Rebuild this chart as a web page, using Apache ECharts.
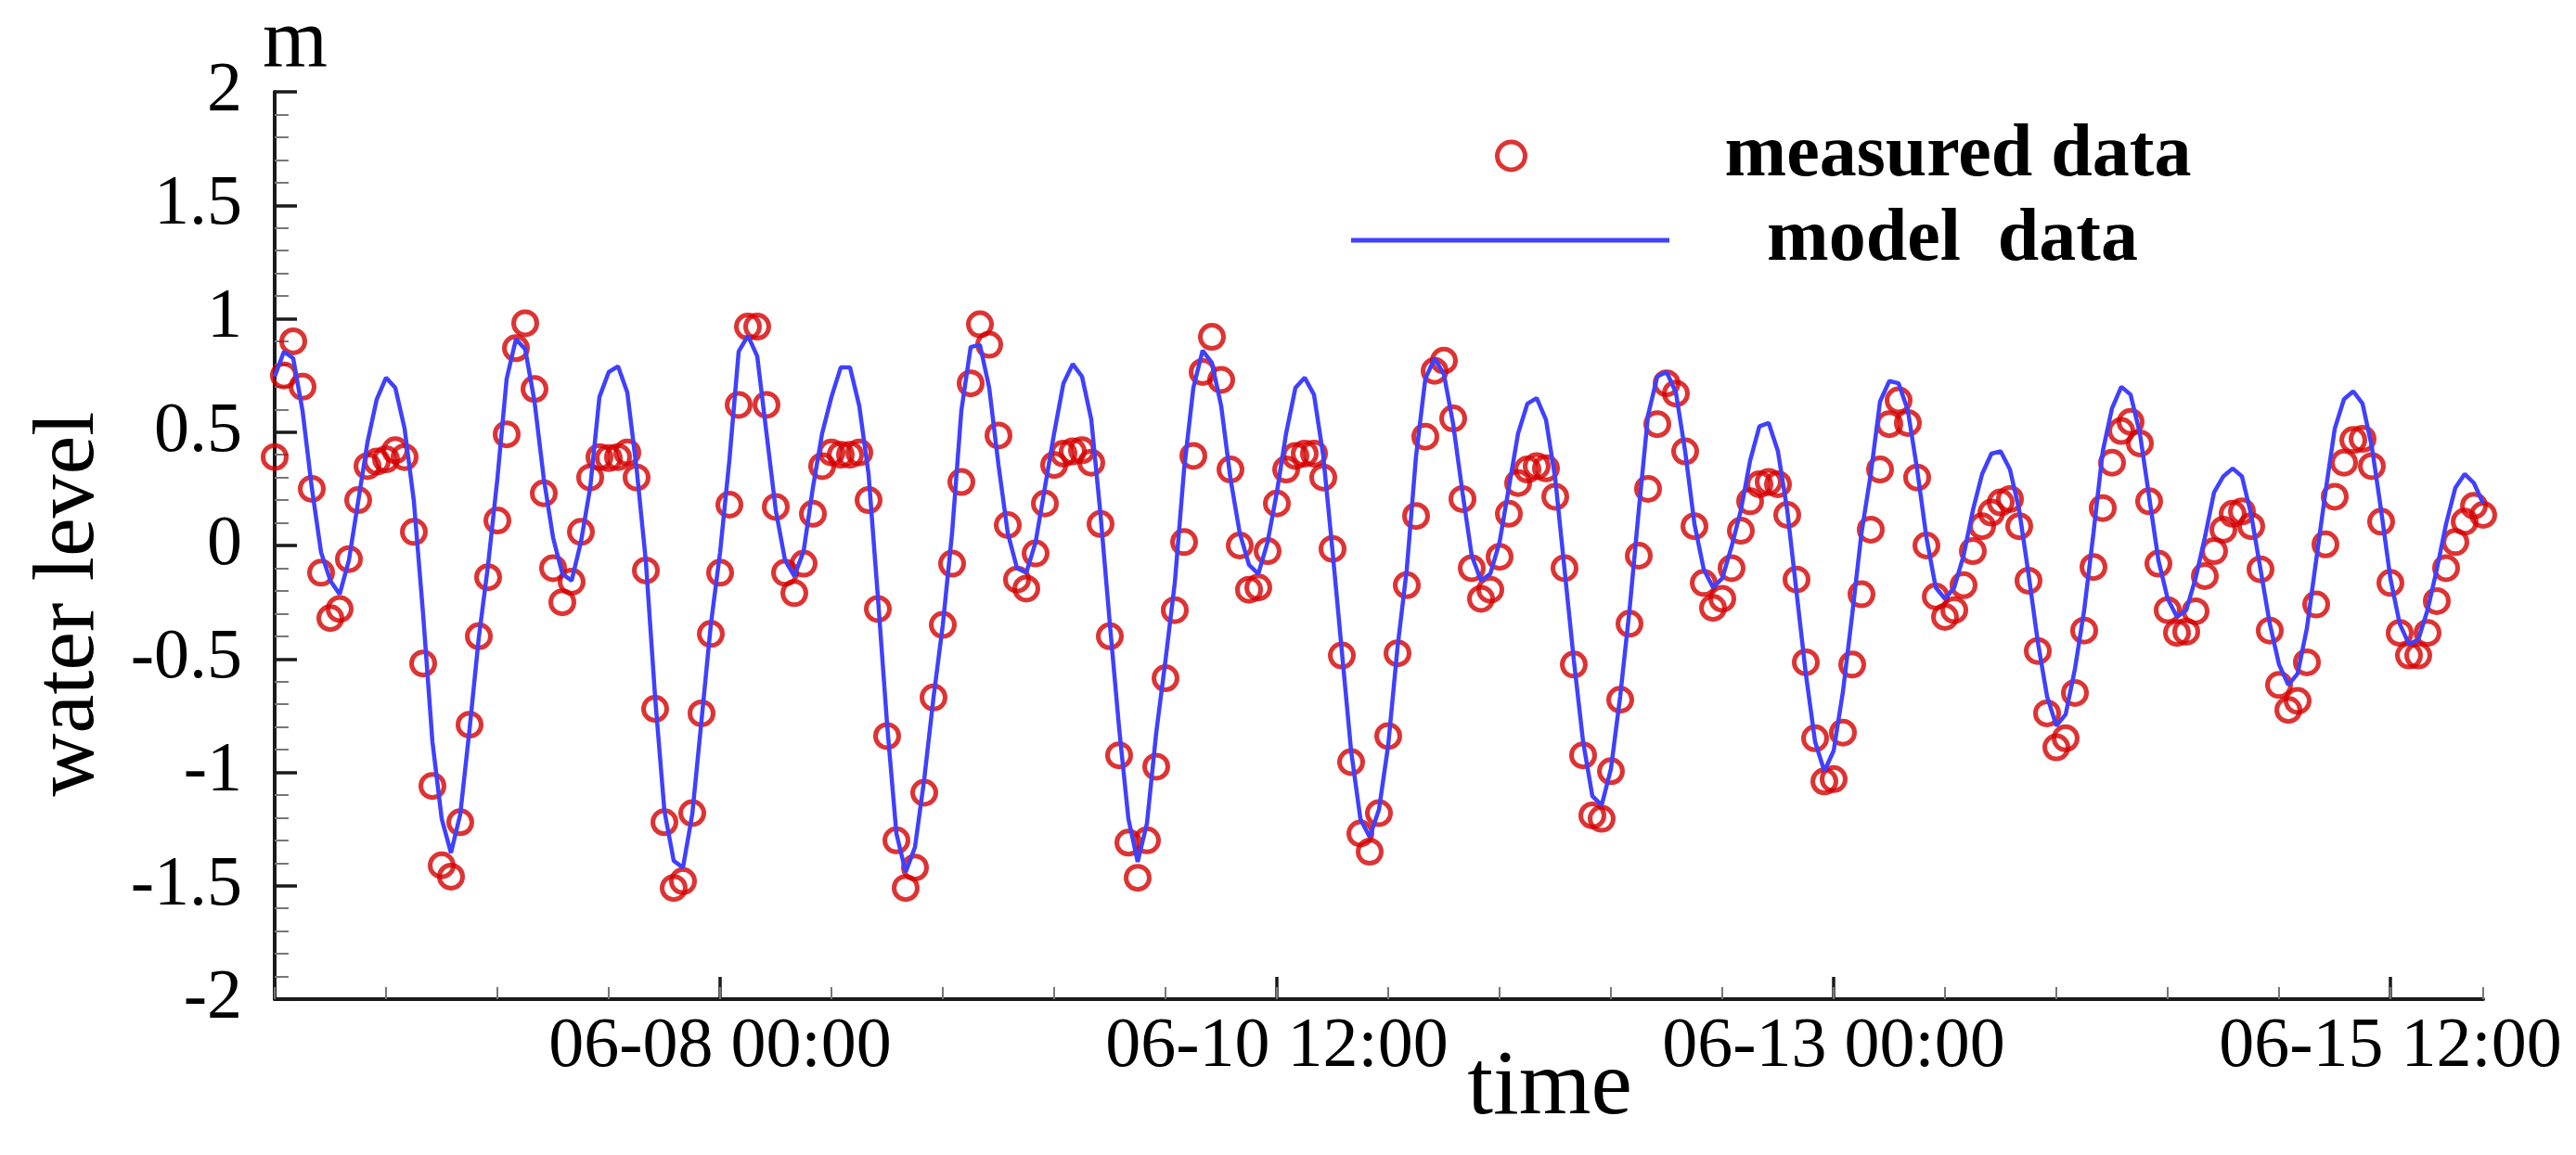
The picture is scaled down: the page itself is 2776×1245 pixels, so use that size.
<!DOCTYPE html>
<html>
<head>
<meta charset="utf-8">
<script src="https://cdn.jsdelivr.net/npm/echarts@6/dist/echarts.min.js"></script>
<style>
html,body{margin:0;padding:0;background:#fff;}
#chart{width:2776px;height:1245px;}
</style>
</head>
<body>
<div id="chart"></div>
<script>
// measured water level (m), hourly samples from 06-06 00:00
const measuredLevel = [
  0.39, 0.75, 0.90, 0.70, 0.25, -0.12, -0.32, -0.28, -0.06, 0.20, 0.35, 0.37,
  0.38, 0.42, 0.39, 0.06, -0.52, -1.06, -1.41, -1.46, -1.22, -0.79, -0.40, -0.14,
  0.11, 0.49, 0.87, 0.98, 0.69, 0.23, -0.10, -0.25, -0.16, 0.06, 0.30, 0.39,
  0.385, 0.39, 0.41, 0.30, -0.11, -0.72, -1.22, -1.51, -1.48, -1.18, -0.74, -0.39,
  -0.12, 0.18, 0.62, 0.965, 0.965, 0.62, 0.17, -0.12, -0.21, -0.08, 0.14, 0.35,
  0.41, 0.40, 0.40, 0.41, 0.20, -0.28, -0.84, -1.30, -1.51, -1.42, -1.09, -0.67,
  -0.35, -0.08, 0.28, 0.715, 0.975, 0.885, 0.485, 0.09, -0.15, -0.19, -0.035, 0.185,
  0.355, 0.405, 0.415, 0.42, 0.365, 0.095, -0.40, -0.925, -1.31, -1.465, -1.30, -0.975,
  -0.585, -0.285, 0.015, 0.395, 0.765, 0.92, 0.73, 0.335, 0.0, -0.195, -0.185, -0.025,
  0.185, 0.335, 0.395, 0.405, 0.405, 0.30, -0.015, -0.485, -0.955, -1.27, -1.35, -1.18,
  -0.84, -0.475, -0.175, 0.13, 0.48, 0.77, 0.815, 0.56, 0.205, -0.10, -0.235, -0.195,
  -0.05, 0.14, 0.275, 0.335, 0.35, 0.34, 0.215, -0.10, -0.525, -0.925, -1.19, -1.205,
  -0.995, -0.68, -0.345, -0.045, 0.25, 0.535, 0.715, 0.67, 0.415, 0.085, -0.165, -0.275,
  -0.235, -0.10, 0.065, 0.195, 0.27, 0.28, 0.27, 0.135, -0.15, -0.515, -0.85, -1.04,
  -1.03, -0.825, -0.525, -0.215, 0.07, 0.335, 0.535, 0.64, 0.54, 0.30, 0.0, -0.225,
  -0.315, -0.285, -0.175, -0.025, 0.085, 0.145, 0.19, 0.205, 0.085, -0.155, -0.465, -0.74,
  -0.89, -0.85, -0.65, -0.375, -0.095, 0.165, 0.365, 0.505, 0.545, 0.45, 0.195, -0.08,
  -0.285, -0.385, -0.38, -0.29, -0.135, -0.025, 0.07, 0.14, 0.15, 0.085, -0.105, -0.375,
  -0.615, -0.725, -0.685, -0.515, -0.26, 0.005, 0.215, 0.365, 0.465, 0.47, 0.35, 0.105,
  -0.165, -0.385, -0.485, -0.485, -0.385, -0.245, -0.10, 0.015, 0.105, 0.175, 0.135
];
// model water level (m), hourly samples from 06-06 00:00
const modelLevel = [
  0.745, 0.855, 0.825, 0.595, 0.255, -0.03, -0.155, -0.215, -0.065, 0.195, 0.455, 0.645,
  0.74, 0.695, 0.515, 0.195, -0.305, -0.865, -1.205, -1.355, -1.185, -0.81, -0.405, -0.085,
  0.295, 0.735, 0.91, 0.865, 0.635, 0.295, 0.035, -0.125, -0.155, 0.015, 0.255, 0.655,
  0.765, 0.79, 0.675, 0.34, -0.07, -0.67, -1.17, -1.39, -1.42, -1.185, -0.77, -0.35,
  -0.03, 0.375, 0.855, 0.925, 0.835, 0.495, 0.155, -0.065, -0.135, -0.025, 0.255, 0.495,
  0.655, 0.785, 0.785, 0.615, 0.315, -0.225, -0.79, -1.27, -1.44, -1.33, -1.03, -0.67,
  -0.35, 0.055, 0.595, 0.875, 0.885, 0.695, 0.355, 0.055, -0.10, -0.12, 0.015, 0.255,
  0.495, 0.715, 0.80, 0.745, 0.555, 0.135, -0.345, -0.805, -1.205, -1.395, -1.225, -0.825,
  -0.505, -0.165, 0.335, 0.695, 0.86, 0.805, 0.615, 0.295, 0.055, -0.085, -0.125, 0.015,
  0.235, 0.495, 0.695, 0.74, 0.665, 0.395, -0.025, -0.465, -0.905, -1.205, -1.285, -1.165,
  -0.88, -0.45, -0.105, 0.395, 0.735, 0.825, 0.755, 0.535, 0.235, -0.045, -0.155, -0.125,
  0.015, 0.255, 0.495, 0.625, 0.65, 0.555, 0.295, -0.105, -0.505, -0.865, -1.105, -1.145,
  -0.985, -0.665, -0.285, 0.155, 0.575, 0.745, 0.765, 0.675, 0.415, 0.095, -0.105, -0.185,
  -0.145, -0.005, 0.155, 0.375, 0.525, 0.54, 0.415, 0.155, -0.205, -0.565, -0.865, -0.995,
  -0.905, -0.645, -0.305, 0.055, 0.315, 0.635, 0.725, 0.715, 0.595, 0.335, 0.035, -0.185,
  -0.235, -0.185, -0.045, 0.155, 0.315, 0.405, 0.415, 0.335, 0.155, -0.125, -0.425, -0.665,
  -0.795, -0.745, -0.545, -0.285, 0.055, 0.415, 0.605, 0.70, 0.665, 0.495, 0.215, -0.065,
  -0.235, -0.315, -0.285, -0.145, 0.035, 0.235, 0.305, 0.34, 0.305, 0.135, -0.105, -0.345,
  -0.525, -0.615, -0.565, -0.365, -0.065, 0.235, 0.515, 0.645, 0.68, 0.625, 0.435, 0.155,
  -0.145, -0.345, -0.435, -0.415, -0.285, -0.105, 0.095, 0.255, 0.315, 0.275, 0.185
];
// tick positions (hours since 06-06 00:00) and their labels
const xTickHours = [48, 108, 168, 228];
const xTickLabels = ['06-08 00:00', '06-10 12:00', '06-13 00:00', '06-15 12:00'];
const xMaxHour = 238;
const seriesNames = ['measured data', 'model  data'];

const measuredPts = measuredLevel.map((v, i) => [i, v]);
const modelPts = modelLevel.map((v, i) => [i, v]);

const FONT = "'Liberation Serif', 'Times New Roman', serif";
const RED = '#d60000';
const BLUE = '#4040ff';
const chart = echarts.init(document.getElementById('chart'), null, {renderer: 'canvas'});
chart.setOption({
  backgroundColor: '#ffffff',
  animation: false,
  grid: {left: 296, top: 99, width: 2380, height: 978, containLabel: false},
  legend: [
    {
      data: [{name: seriesNames[0], icon: 'circle'}], left: 1611, top: 128, padding: 0, orient: 'vertical',
      itemWidth: 30, itemHeight: 30, selectedMode: false,
      itemStyle: {color: 'rgba(0,0,0,0)', borderColor: RED, borderWidth: 5},
      textStyle: {fontFamily: FONT, fontSize: 80, fontWeight: 'bold', color: '#000', padding: [0, 0, 0, 210]}
    },
    {
      data: [{name: seriesNames[1], icon: 'rect'}], left: 1456, top: 219, padding: 0, orient: 'vertical',
      itemWidth: 343, itemHeight: 5, selectedMode: false,
      itemStyle: {color: BLUE, borderWidth: 0},
      textStyle: {fontFamily: FONT, fontSize: 80, fontWeight: 'bold', color: '#000', padding: [0, 0, 0, 100]}
    }
  ],
  xAxis: [
    {
      type: 'value', min: 0, max: xMaxHour, interval: 12,
      axisLine: {show: true, onZero: false, lineStyle: {color: '#1a1a1a', width: 4}},
      axisTick: {show: true, inside: true, length: 24, customValues: xTickHours, lineStyle: {color: '#1a1a1a', width: 3.5}},
      axisLabel: {
        show: true, customValues: xTickHours, margin: 14,
        fontFamily: FONT, fontSize: 76, color: '#000',
        formatter: v => { const k = xTickHours.indexOf(v); return k >= 0 ? xTickLabels[k] : ''; }
      },
      splitLine: {show: false}
    },
    {
      type: 'value', min: 0, max: xMaxHour, interval: 12, position: 'bottom',
      axisLine: {show: false, onZero: false},
      axisTick: {show: true, inside: true, length: 13, lineStyle: {color: '#777', width: 2}},
      axisLabel: {show: false},
      splitLine: {show: false}
    }
  ],
  yAxis: {
    type: 'value', min: -2, max: 2, interval: 0.5,
    axisLine: {show: true, onZero: false, lineStyle: {color: '#1a1a1a', width: 4}},
    axisTick: {show: true, inside: true, length: 24, lineStyle: {color: '#1a1a1a', width: 3.5}},
    minorTick: {show: true, splitNumber: 5, length: 15, lineStyle: {color: '#777', width: 2}},
    axisLabel: {margin: 35, fontFamily: FONT, fontSize: 76, color: '#000'},
    splitLine: {show: false}
  },
  series: [
    {
      name: seriesNames[0], type: 'scatter', data: measuredPts,
      symbol: 'circle', symbolSize: 25,
      itemStyle: {color: 'rgba(0,0,0,0)', borderColor: RED, borderWidth: 5},
      z: 2
    },
    {
      name: seriesNames[1], type: 'line', data: modelPts,
      symbol: 'none', showSymbol: false,
      lineStyle: {color: BLUE, width: 4.5},
      itemStyle: {color: BLUE},
      z: 3
    }
  ],
  graphic: [
    {type: 'text', x: 318, y: 48, style: {text: 'm', font: '90px ' + FONT, fill: '#000', textAlign: 'center', textVerticalAlign: 'middle'}},
    {type: 'text', x: 75, y: 651, rotation: Math.PI / 2, style: {text: 'water level', font: '94px ' + FONT, fill: '#000', textAlign: 'center', textVerticalAlign: 'middle'}},
    {type: 'text', x: 1670, y: 1174, style: {text: 'time', font: '100px ' + FONT, fill: '#000', textAlign: 'center', textVerticalAlign: 'middle'}}
  ]
});
</script>
</body>
</html>
